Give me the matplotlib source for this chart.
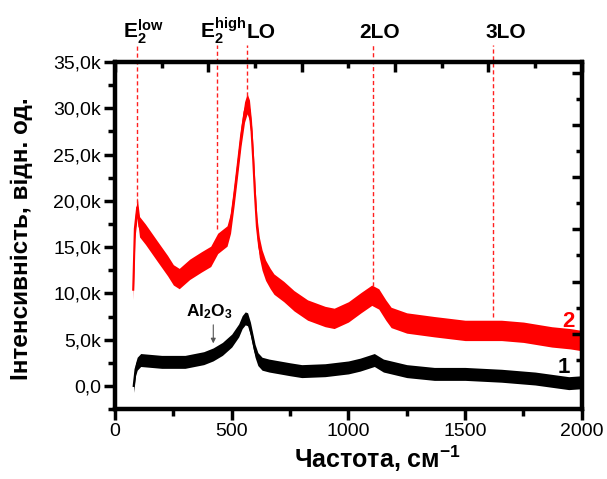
import matplotlib
matplotlib.use('Agg')
import matplotlib.pyplot as plt
import numpy as np
from matplotlib.ticker import MultipleLocator, FuncFormatter, NullFormatter

plt.rcParams['font.family'] = ['Liberation Sans', 'DejaVu Sans']
plt.rcParams['mathtext.fontset'] = 'custom'
plt.rcParams['mathtext.rm'] = 'Liberation Sans:bold'
plt.rcParams['mathtext.bf'] = 'Liberation Sans:bold'
plt.rcParams['mathtext.default'] = 'bf'

# curve 2 (red), intensities in thousands
x_red = [78, 85, 95, 105, 130, 180, 225, 250, 275, 320, 370, 410, 440, 480, 495,
         510, 524, 540, 555, 566, 576, 585, 592, 600, 608, 618, 630, 645, 665,
         681, 723, 767, 825, 900, 939, 1000, 1054, 1100, 1130, 1160, 1183, 1250,
         1368, 1500, 1656, 1750, 1871, 1950, 2000]
y_red = [10.4, 17.0, 19.3, 17.2, 16.4, 14.6, 13.0, 12.0, 11.6, 12.6, 13.4, 14.0,
         15.4, 16.2, 17.6, 20.5, 23.5, 27.0, 29.6, 30.5, 29.8, 27.5, 24.5, 20.5,
         17.2, 15.0, 13.6, 12.5, 11.6, 11.0, 10.2, 9.2, 8.2, 7.5, 7.3, 8.0, 9.0,
         9.8, 9.4, 8.2, 7.4, 6.8, 6.4, 6.0, 6.0, 5.8, 5.3, 5.1, 4.9]
spread_red = 1.1

# curve 1 (black)
x_blk = [80, 88, 95, 110, 200, 300, 380, 420, 460, 500, 530, 545, 558, 568, 580,
         590, 600, 612, 630, 660, 750, 800, 900, 1000, 1050, 1111, 1150, 1250,
         1368, 1500, 1656, 1800, 1944, 2000]
y_blk = [0.0, 1.8, 2.4, 2.8, 2.6, 2.6, 3.0, 3.4, 4.0, 4.9, 6.0, 6.9, 7.3, 7.2,
         6.2, 5.0, 3.8, 2.9, 2.4, 2.2, 1.8, 1.6, 1.7, 2.0, 2.3, 2.8, 2.2, 1.6,
         1.3, 1.3, 1.1, 0.8, 0.3, 0.4]
spread_blk = 0.7

# phonon modes: label, line position, line bottom (k), label left edge
modes = ['E$_2^{low}$', 'E$_2^{high}$', 'LO', '2LO', '3LO']
mode_pos = [95, 438, 566, 1105, 1621]
mode_end = [19.8, 17.0, 31.3, 10.8, 7.5]
label_left = [34, 365, 562, 1045, 1587]

fig = plt.figure(figsize=(6.07, 4.79), dpi=100)
ax = fig.add_axes([0.1895, 0.146, 0.769, 0.7245])

xr = np.array(x_red); yr = np.array(y_red) * 1000
xb = np.array(x_blk); yb = np.array(y_blk) * 1000
ax.fill_between(xr, yr - spread_red * 1000, yr + spread_red * 1000,
                color='#ff0000', lw=0)
ax.plot(xr, yr, color='#ff0000', lw=1.5)
ax.fill_between(xb, yb - spread_blk * 1000, yb + spread_blk * 1000,
                color='black', lw=0)
ax.plot(xb, yb, color='black', lw=1.5)

for lab, xp, ye, xl in zip(modes, mode_pos, mode_end, label_left):
    ax.plot([xp, xp], [ye * 1000, 36800], color='#ff2020', lw=1.0,
            ls=(0, (3, 2)), clip_on=False, zorder=1)
    ax.text(xl, 37600, lab, fontsize=15, fontweight='bold', ha='left',
            va='baseline', clip_on=False)

ax.annotate('', xy=(421, 4300), xytext=(421, 6900),
            arrowprops=dict(arrowstyle='-|>', color='#555555', lw=0.8,
                            mutation_scale=7))
ax.text(405, 7500, 'Al$_2$O$_3$', fontsize=12.5, fontweight='bold',
        ha='center', va='baseline')
ax.text(1944, 7000, '2', color='#ff0000', fontsize=16, fontweight='bold',
        ha='center', va='center')
ax.text(1925, 2000, '1', color='black', fontsize=16, fontweight='bold',
        ha='center', va='center')

ax.set_xlim(0, 2000)
ax.set_ylim(-2500, 35000)
ax.xaxis.set_major_locator(MultipleLocator(500))
ax.xaxis.set_minor_locator(MultipleLocator(250))
ax.yaxis.set_major_locator(MultipleLocator(5000))
ax.yaxis.set_minor_locator(MultipleLocator(2500))
ax.yaxis.set_major_formatter(FuncFormatter(
    lambda v, p: '0,0' if v == 0 else ('%.1fk' % (v / 1000)).replace('.', ',')))
ax.tick_params(which='major', direction='out', length=8, width=2.5,
               labelsize=14, pad=2)
ax.tick_params(which='minor', direction='out', length=5, width=2.5)
for s in ax.spines.values():
    s.set_linewidth(3)

# top and right axes: inward ticks, own spacing
top = ax.twiny()
top.set_xlim(ax.get_xlim())
top.xaxis.set_major_locator(MultipleLocator(400))
top.xaxis.set_minor_locator(MultipleLocator(200))
top.xaxis.set_major_formatter(NullFormatter())
top.tick_params(which='major', direction='in', length=7, width=2.5)
top.tick_params(which='minor', direction='in', length=4, width=2.5)

right = ax.twinx()
right.set_ylim(ax.get_ylim())
right.yaxis.set_major_locator(MultipleLocator(5640))
right.yaxis.set_minor_locator(MultipleLocator(2820))
right.yaxis.set_major_formatter(NullFormatter())
right.tick_params(which='major', direction='in', length=7, width=2.5)
right.tick_params(which='minor', direction='in', length=4, width=2.5)
for a in (top, right):
    for s in a.spines.values():
        s.set_linewidth(3)

ax.set_xlabel('Частота, см$^{-1}$', fontsize=18, fontweight='bold')
ax.xaxis.set_label_coords(0.563, -0.1)
ax.set_ylabel('Інтенсивність, відн. од.', fontsize=17.5, fontweight='bold')
ax.yaxis.set_label_coords(-0.175, 0.49)

fig.savefig('out.png', dpi=100)
